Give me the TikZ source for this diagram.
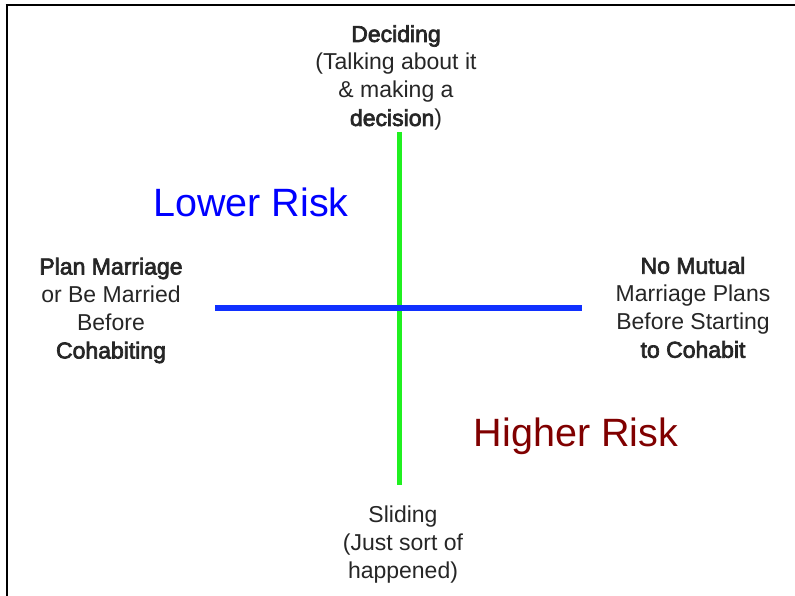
\documentclass[tikz,border=0pt]{standalone}
\usepackage{fontspec}
\setmainfont{Liberation Sans}
\newfontfamily\smudge[FakeBold=3]{Liberation Sans}
\usepackage{xcolor}
\usepackage{tikz}
\usetikzlibrary{positioning}
\definecolor{axisgreen}{RGB}{32,240,32}
\definecolor{axisblue}{RGB}{16,48,255}
\definecolor{riskred}{RGB}{128,0,0}
\tikzset{
  pole/.style={align=center, font=\fontsize{23}{28}\selectfont, text=black!85},
  risk/.style={font=\fontsize{39.5}{44}\selectfont}
}

\begin{document}
\begin{tikzpicture}[x=1pt, y=-1pt]
\useasboundingbox (0,0) rectangle (795,596);
\draw[black, line width=2.5pt](5.5,5) -- (795,5);
\draw[black, line width=2.5pt](7,5) -- (7,596);
\coordinate (up) at (399,132);
\coordinate (down) at (399,485);
\coordinate (left) at (215,308);
\coordinate (right) at (582,308);
\draw[axisgreen, line width=5pt](up) -- (down);
\draw[axisblue, line width=6pt](left) -- (right);
\node[pole] (deciding) at (396,78) {{\smudge Deciding}\\(Talking about it\\\& making a\\{\smudge decision})};
\node[pole] (sliding) at (403,545) {Sliding\\(Just sort of\\happened)};
\node[pole] (plan) at (111,310.5) {{\smudge Plan Marriage}\\or Be Married\\Before\\{\smudge Cohabiting}};
\node[pole] (nomutual) at (693,307.5) {{\smudge No Mutual}\\Marriage Plans\\Before Starting\\{\smudge to Cohabit}};
\node[risk, text=blue] (lower) at (251,202) {Lower Risk};
\node[risk, text=riskred] (higher) at (576,436) {Higher Risk};
\end{tikzpicture}
\end{document}
